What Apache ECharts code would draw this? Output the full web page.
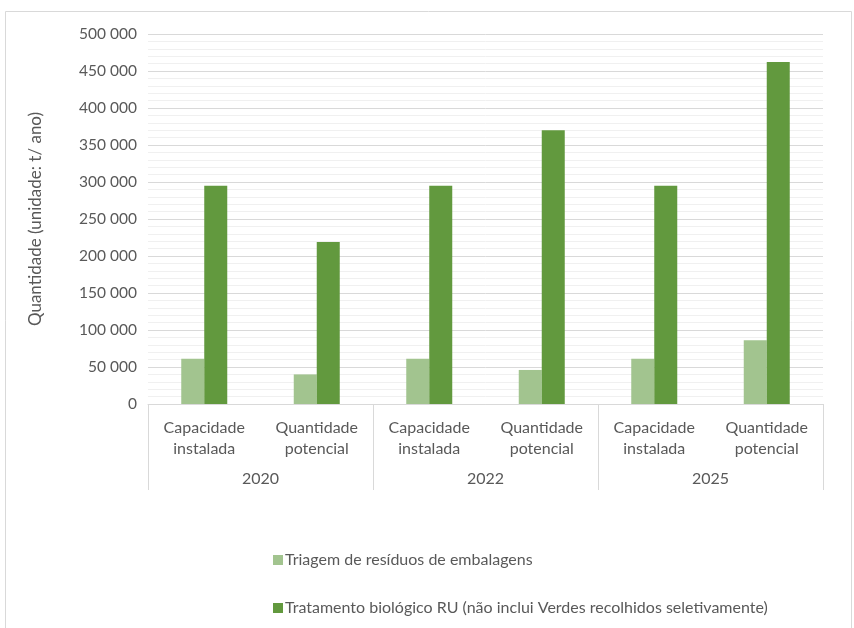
<!DOCTYPE html>
<html>
<head>
<meta charset="utf-8">
<script src="https://cdn.jsdelivr.net/npm/echarts@6/dist/echarts.min.js"></script>
<style>
  html, body { margin: 0; padding: 0; background: #fff; }
  #chart { width: 854px; height: 628px; }
</style>
</head>
<body>
<div id="chart"></div>
<script>
// Sub-categories (inner axis level) and years (outer axis level)
const subCategories = ['Capacidade\ninstalada', 'Quantidade\npotencial',
                       'Capacidade\ninstalada', 'Quantidade\npotencial',
                       'Capacidade\ninstalada', 'Quantidade\npotencial'];
const years = ['2020', '2022', '2025'];

const seriesNames = [
  'Triagem de resíduos de embalagens',
  'Tratamento biológico RU (não inclui Verdes recolhidos seletivamente)'
];
// t / ano
const triagem = [61000, 40000, 61000, 46000, 61000, 86000];
const tratamento = [295000, 219000, 295000, 370000, 295000, 462000];

const yTicks = [0, 50000, 100000, 150000, 200000, 250000, 300000, 350000, 400000, 450000, 500000];

const FONT = 'Lato, "Open Sans", sans-serif';
const TXT = '#595959';

function fmt(v) {
  if (v === 0) return '0';
  return String(v).replace(/\B(?=(\d{3})+(?!\d))/g, ' ');
}

const chart = echarts.init(document.getElementById('chart'), null, { renderer: 'canvas' });

chart.setOption({
  animation: false,
  backgroundColor: '#fff',
  textStyle: { fontFamily: FONT },
  graphic: [{
    type: 'rect',
    shape: { x: 5.5, y: 11.5, width: 846, height: 640 },
    style: { fill: 'none', stroke: '#d9d9d9', lineWidth: 1 },
    silent: true
  }],
  grid: { left: 148, right: 31, top: 34, bottom: 224, containLabel: false },
  legend: {
    orient: 'vertical',
    left: 268,
    top: 547,
    itemWidth: 10,
    itemHeight: 10,
    itemGap: 32,
    icon: 'rect',
    textStyle: { color: TXT, fontSize: 16, fontFamily: FONT, padding: [0, 0, 0, -3] },
    data: seriesNames
  },
  xAxis: [{
    type: 'category',
    data: subCategories,
    position: 'bottom',
    axisLine: { show: true, lineStyle: { color: '#d9d9d9', width: 1 } },
    axisTick: { show: false },
    axisLabel: { color: TXT, fontSize: 16, fontFamily: FONT, lineHeight: 21, margin: 13, interval: 0 }
  }, {
    type: 'category',
    data: years,
    position: 'bottom',
    axisLine: { show: false },
    axisTick: { show: true, length: 86, alignWithLabel: false, lineStyle: { color: '#d9d9d9' } },
    axisLabel: { color: TXT, fontSize: 16, fontFamily: FONT, margin: 67, interval: 0 },
    splitLine: { show: false }
  }],
  yAxis: {
    type: 'value',
    min: yTicks[0],
    max: yTicks[yTicks.length - 1],
    interval: yTicks[1] - yTicks[0],
    name: 'Quantidade (unidade: t/ ano)',
    nameLocation: 'middle',
    nameGap: 104,
    nameTextStyle: { color: TXT, fontSize: 17, fontFamily: FONT },
    axisLine: { show: false },
    axisTick: { show: false },
    axisLabel: { color: TXT, fontSize: 15.5, fontFamily: FONT, margin: 11, formatter: fmt },
    splitLine: { show: true, lineStyle: { color: '#d9d9d9', width: 1 } },
    minorTick: { show: false, splitNumber: 5 },
    minorSplitLine: { show: true, lineStyle: { color: '#f0f0f0', width: 1 } }
  },
  series: [{
    name: seriesNames[0],
    type: 'bar',
    xAxisIndex: 0,
    data: triagem,
    barWidth: 23,
    barGap: '0%',
    itemStyle: { color: '#a2c48f' }
  }, {
    name: seriesNames[1],
    type: 'bar',
    xAxisIndex: 0,
    data: tratamento,
    barWidth: 23,
    barGap: '0%',
    itemStyle: { color: '#62993e' }
  }]
});
</script>
</body>
</html>
